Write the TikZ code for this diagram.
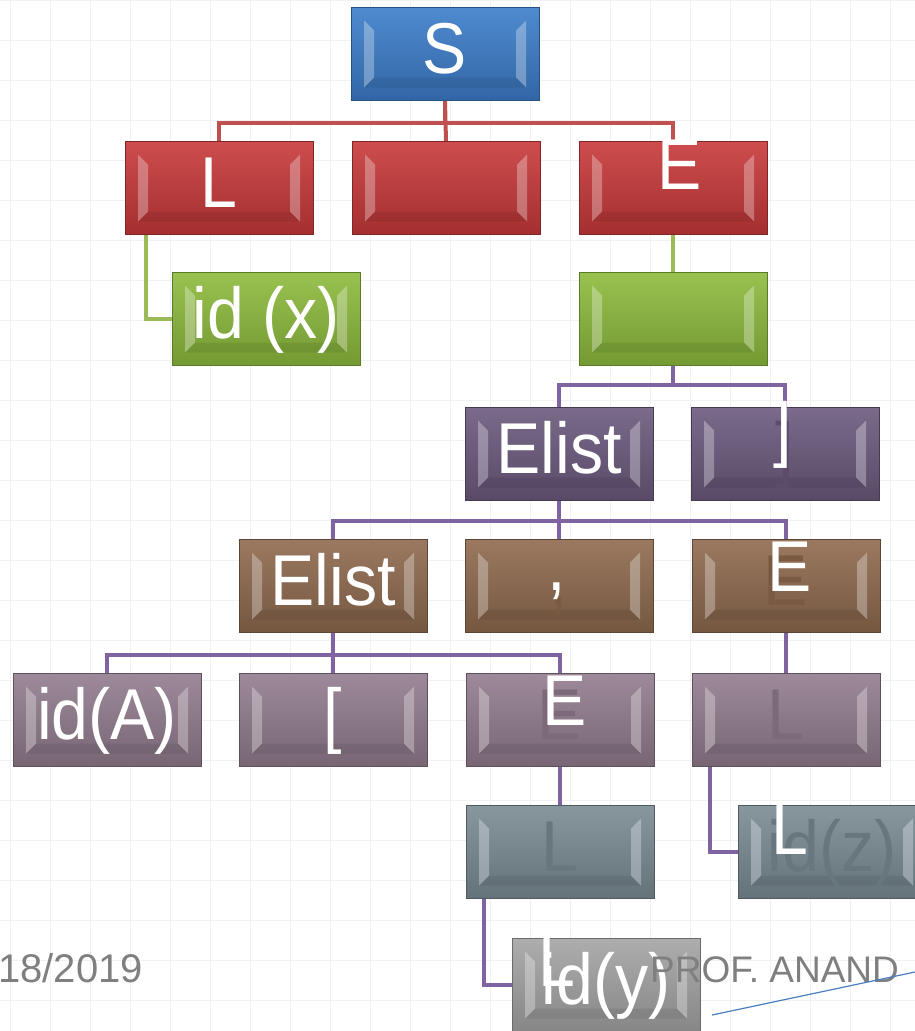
\documentclass[tikz,border=0pt]{standalone}
\usepackage{fontspec}
\setmainfont{Liberation Sans}
\newfontfamily\boxfont[FakeStretch=0.92]{Liberation Sans}
\usetikzlibrary{positioning,backgrounds}
\definecolor{tblue}{HTML}{3C7DCA}
\definecolor{tred}{HTML}{C8393A}
\definecolor{tgreen}{HTML}{8DBB3D}
\definecolor{tpurple}{HTML}{6C5A7E}
\definecolor{tbrown}{HTML}{8F6A4E}
\definecolor{tmauve}{HTML}{927C8E}
\definecolor{tslate}{HTML}{7A8C93}
\definecolor{tgray}{HTML}{A4A4A4}
\definecolor{lred}{HTML}{C0504D}
\definecolor{lgreen}{HTML}{9BBB59}
\definecolor{lpurple}{HTML}{8064A2}
\definecolor{foot}{HTML}{7F7F7F}
\definecolor{gridc}{HTML}{F1F1F1}
\definecolor{pen}{HTML}{4A7EC0}

\begin{document}
\begin{tikzpicture}[x=1pt,y=-1pt,
  tbox/.style={rectangle,minimum width=188pt,minimum height=93pt,inner sep=0pt,
    top color=#1!90!white,bottom color=#1!82!black,draw=#1!65!black,line width=.8pt,
    text=white,font=\boxfont\fontsize{72}{72}\selectfont,text height=51pt,text depth=12pt,
    path picture={
      \fill[white,opacity=.3] ([shift={(13pt,-13pt)}]path picture bounding box.north west)
        -- ([shift={(23pt,-23pt)}]path picture bounding box.north west)
        -- ([shift={(23pt,23pt)}]path picture bounding box.south west)
        -- ([shift={(13pt,13pt)}]path picture bounding box.south west) -- cycle;
      \fill[white,opacity=.3] ([shift={(-13pt,-13pt)}]path picture bounding box.north east)
        -- ([shift={(-23pt,-23pt)}]path picture bounding box.north east)
        -- ([shift={(-23pt,23pt)}]path picture bounding box.south east)
        -- ([shift={(-13pt,13pt)}]path picture bounding box.south east) -- cycle;
      \fill[black,opacity=.07] ([shift={(13pt,13pt)}]path picture bounding box.south west)
        -- ([shift={(-13pt,13pt)}]path picture bounding box.south east)
        -- ([shift={(-23pt,23pt)}]path picture bounding box.south east)
        -- ([shift={(23pt,23pt)}]path picture bounding box.south west) -- cycle;
    }},
  over/.style={text=white,inner sep=0pt,font=\boxfont\fontsize{72}{72}\selectfont},
  redln/.style={lred,line width=4pt},
  grnln/.style={lgreen,line width=4pt},
  purln/.style={lpurple,line width=4pt},
  footer/.style={text=foot,inner sep=0pt}]

\useasboundingbox (0,0) rectangle (915,1031);
\clip (0,0) rectangle (915,1031);

% root and first level
\node[tbox=tblue] (S) at (445,54) {S};
\node[tbox=tred] (L) at (219,188) {L};
\node[tbox=tred] (M) at (446,188) {};
\node[tbox=tred] (E1) at (673,188) {};
\node[over] (E1t) at ([xshift=7pt,yshift=23pt]E1.center) {E};

% green level
\node[tbox=tgreen] (idx) at (266,319) {id (x)};
\node[tbox=tgreen] (G2) at (673,319) {};

% purple level
\node[tbox=tpurple] (El1) at (559,454) {Elist};
\node[tbox=tpurple,text=tpurple!85!black] (Rb) at (785,454) {]};
\node[over] (Rbt) at ([xshift=-2pt,yshift=19pt]Rb.center) {]};

% brown level
\node[tbox=tbrown] (El2) at (333,586) {Elist};
\node[tbox=tbrown,text=tbrown!85!black] (Cm) at (559,586) {,};
\node[over] (Cmt) at ([xshift=-2pt,yshift=-5pt]Cm.center) {,};
\node[tbox=tbrown,text=tbrown!85!black] (E2) at (786,586) {E};
\node[over] (E2t) at ([xshift=4pt,yshift=19pt]E2.center) {E};

% mauve level
\node[tbox=tmauve] (idA) at (107,720) {id(A)};
\node[tbox=tmauve] (Lb) at (333,720) {[};
\node[tbox=tmauve,text=tmauve!85!black] (E3) at (560,720) {E};
\node[over] (E3t) at ([xshift=5pt,yshift=19pt]E3.center) {E};
\node[tbox=tmauve,text=tmauve!85!black] (L4) at (786,720) {L};

% slate level
\node[tbox=tslate,text=tslate!85!black] (L5) at (560,852) {L};
\node[tbox=tslate,text=tslate!85!black] (idz) at (832,852) {id(z)};
\node[over] (idzt) at ([xshift=-42pt,yshift=22pt]idz.center) {L};

% gray leaf
\node[tbox=tgray] (idy) at (606,985) {id(y)};
\node[over] (idyt) at ([xshift=-49pt,yshift=23pt]idy.center) {L};

\begin{scope}[on background layer]
  \fill[white] (0,0) rectangle (915,1031);
  \foreach \gx in {10,50,...,890} \draw[gridc,line width=1pt] (\gx,0) -- (\gx,1031);
  \foreach \gy in {0,40,...,1000} \draw[gridc,line width=1pt] (0,\gy) -- (915,\gy);
  % connectors
  \draw[redln] (S.south) -- ++(0,22) -| (L.north);
  \draw[redln] (S.south) -- (M.north);
  \draw[redln] (S.south) -- ++(0,22) -| (E1.north);
  \draw[grnln] ([xshift=21pt]L.south west) |- (idx.west);
  \draw[grnln] (E1.south) -- (G2.north);
  \draw[purln] (G2.south) -- ++(0,19) -| (El1.north);
  \draw[purln] (G2.south) -- ++(0,19) -| (Rb.north);
  \draw[purln] (El1.south) -- ++(0,20) -| (El2.north);
  \draw[purln] (El1.south) -- (Cm.north);
  \draw[purln] (El1.south) -- ++(0,20) -| (E2.north);
  \draw[purln] (El2.south) -- ++(0,22) -| (idA.north);
  \draw[purln] (El2.south) -- (Lb.north);
  \draw[purln] (El2.south) -- ++(0,22) -| (E3.north);
  \draw[purln] (E2.south) -- (L4.north);
  \draw[purln] (E3.south) -- (L5.north);
  \draw[purln] ([xshift=18pt]L4.south west) |- (idz.west);
  \draw[purln] ([xshift=18pt]L5.south west) |- (idy.west);
\end{scope}

% footer
\node[footer,font=\fontsize{40}{40}\selectfont,anchor=west] (date) at (-2,968) {18/2019};
\node[footer,font=\fontsize{37}{37}\selectfont,anchor=west] (prof) at (650,970) {PROF. ANAND};
\coordinate (penA) at (712,1015);
\coordinate (penB) at (915,972);
\draw[pen,line width=1.2pt] (penA) -- (penB);
\end{tikzpicture}
\end{document}
